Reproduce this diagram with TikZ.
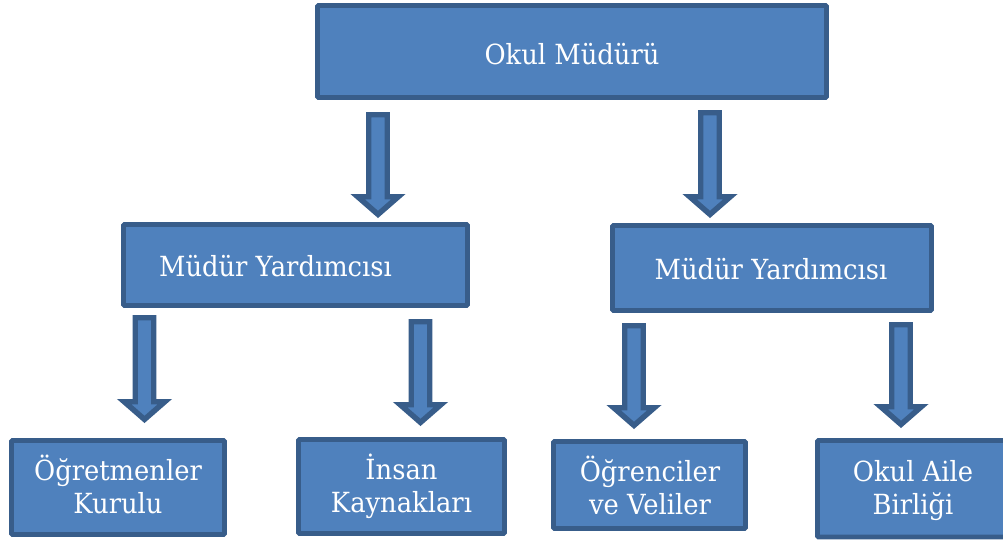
\documentclass[tikz,border=0pt]{standalone}
\usepackage{fontspec}
\setmainfont{DejaVu Serif}[FakeStretch=0.93]
\definecolor{boxfill}{HTML}{4F81BD}
\definecolor{boxline}{HTML}{385D8A}
\newcommand\blockarrow[3]{% centre x, outer top, outer tip (px)
  \draw[barrow] ({#1-9.25},{#2+2.75}) -- ({#1-9.25},{#3-21.25}) -- ({#1-20.25},{#3-21.25})
    -- (#1,{#3-3.6}) -- ({#1+20.25},{#3-21.25}) -- ({#1+9.25},{#3-21.25})
    -- ({#1+9.25},{#2+2.75}) -- cycle;}
\begin{document}
\begin{tikzpicture}[x=0.75pt,y=-0.75pt,
  box/.style={draw=boxline, fill=boxfill, line width=3.7pt, rounded corners=0.8pt, inner sep=0pt},
  lbl/.style={text=white, font=\fontsize{20.8pt}{24.4pt}\selectfont, align=center, anchor=base, inner sep=0pt},
  barrow/.style={draw=boxline, fill=boxfill, line width=4.1pt, line join=miter}]
\useasboundingbox (0,0) rectangle (1003,539);
\clip (0,0) rectangle (1003,539);
% boxes
\node[box, minimum width=0.75pt*509, minimum height=0.75pt*92] (b0) at (572,51.5) {};
\node[box, minimum width=0.75pt*344, minimum height=0.75pt*81] (b1) at (295.5,265) {};
\node[box, minimum width=0.75pt*319, minimum height=0.75pt*85] (b2) at (772,268) {};
\node[box, minimum width=0.75pt*213, minimum height=0.75pt*94] (b3) at (118,487.5) {};
\node[box, minimum width=0.75pt*206, minimum height=0.75pt*94] (b4) at (401.5,486.5) {};
\node[box, minimum width=0.75pt*192, minimum height=0.75pt*87] (b5) at (649.5,485) {};
\node[box, minimum width=0.75pt*191, minimum height=0.75pt*96.5] (b6) at (913,488.75) {};
% labels (base anchor = baseline of the last line)
\node[lbl] (t0) at (572,64) {Okul Müdürü};
\node[lbl] (t1) at (275.5,276) {Müdür Yardımcısı};
\node[lbl] (t2) at (771,279) {Müdür Yardımcısı};
\node[lbl] (t3) at (118,513) {Öğretmenler\\Kurulu};
\node[lbl] (t4) at (401.5,512) {İnsan\\Kaynakları};
\node[lbl] (t5) at (650,514) {Öğrenciler\\ve Veliler};
\node[lbl] (t6) at (913,514) {Okul Aile\\Birliği};
% block arrows
\blockarrow{378}{112}{218}
\blockarrow{710}{110}{218}
\blockarrow{144.5}{315}{423}
\blockarrow{420.5}{319}{426}
\blockarrow{634}{323}{429}
\blockarrow{901}{322}{428}
\end{tikzpicture}
\end{document}
